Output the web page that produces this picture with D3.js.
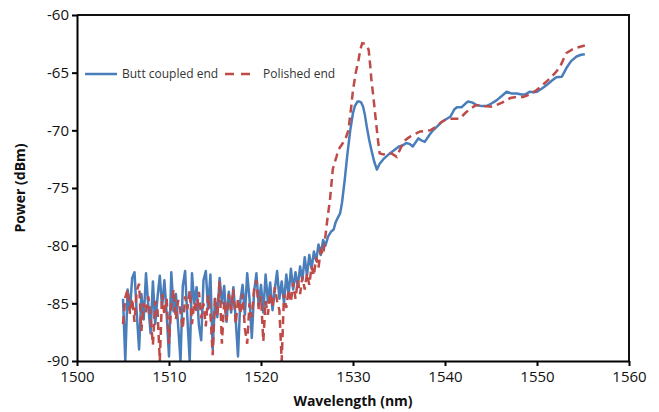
<!DOCTYPE html>
<head>
<meta charset="utf-8">
<title>Power vs Wavelength</title>
<style>
body { margin: 0; background: #fff; font-family: "Open Sans", sans-serif; }
.axis path, .axis line { stroke: #000; stroke-width: 2px; }
.axis text { font-family: "Open Sans", sans-serif; font-size: 15px; fill: #111; }
.title { font-family: "Open Sans", sans-serif; font-size: 14px; font-weight: bold; fill: #111; }
.legend text { font-family: "Open Sans", sans-serif; font-size: 12px; fill: #333; }
</style>
<script src="https://d3js.org/d3.v7.min.js"></script>
</head>
<body>
<script>
// noisy part of both traces, sampled every 0.25 nm from 1505 to 1527 nm
var noiseStart = 1505, noiseStep = 0.25;
var buttNoise = [
  -84.6, -90.0, -83.8, -85.6, -82.8, -82.3, -85.9, -89.0, -84.2, -86.4,
  -82.4, -85.2, -87.6, -83.1, -86.8, -84.5, -82.6, -85.4, -83.0, -86.0,
  -89.6, -82.3, -85.7, -84.2, -87.0, -90.0, -83.5, -82.2, -86.3, -90.0,
  -82.4, -85.0, -83.6, -86.9, -88.2, -83.0, -82.2, -85.5, -82.5, -89.0,
  -84.6, -86.2, -82.8, -85.0, -83.5, -86.6, -84.0, -85.8, -83.6, -86.4,
  -89.6, -84.8, -83.4, -86.0, -82.4, -84.6, -88.0, -84.0, -82.4, -85.2,
  -83.4, -85.8, -82.5, -84.9, -83.2, -85.6, -83.8, -82.2, -84.6, -83.1,
  -85.0, -82.5, -84.3, -82.0, -83.8, -82.3, -83.6, -81.8, -83.0, -81.0,
  -82.6, -80.8, -82.0, -80.5, -81.3, -79.9, -80.8, -79.5, -80.0
];
var polishedNoise = [
  -86.8, -84.5, -83.8, -85.9, -84.6, -86.6, -83.9, -83.3, -87.4, -85.0,
  -85.8, -84.4, -86.2, -88.6, -84.8, -85.6, -90.0, -84.2, -86.0, -84.6,
  -88.5, -85.2, -83.8, -86.4, -84.7, -85.8, -87.2, -84.4, -85.5, -83.9,
  -86.8, -84.9, -85.7, -84.0, -86.3, -85.0, -87.0, -84.3, -85.9, -89.5,
  -84.5, -86.0, -83.1, -88.5, -84.8, -86.5, -84.2, -85.6, -83.8, -86.8,
  -84.6, -85.9, -84.2, -87.2, -88.5, -85.0, -86.2, -83.8, -83.0, -85.5,
  -84.4, -88.3, -84.8, -86.0, -84.1, -85.3, -83.6, -84.8, -85.6, -90.0,
  -84.2, -85.4, -83.8, -84.9, -83.2, -84.6, -83.0, -84.2, -82.7, -83.8,
  -82.4, -83.4, -81.8, -82.6, -81.0, -81.9, -80.4, -80.8, -79.2
];

// smooth part after 1527 nm
var buttTailWl = [1527.3, 1527.6, 1527.9, 1528.1, 1528.4, 1528.6, 1528.8, 1529.1, 1529.4, 1529.7,
  1530.0, 1530.2, 1530.5, 1530.7, 1530.9, 1531.1, 1531.3, 1531.5, 1531.75, 1532.0,
  1532.3, 1532.6, 1532.9, 1533.3, 1534.0, 1534.5, 1535.0, 1535.4, 1535.8, 1536.2,
  1536.5, 1537.1, 1537.5, 1537.8, 1538.3, 1538.7, 1539.1, 1539.6, 1540.2, 1540.6,
  1541.0, 1541.3, 1541.8, 1542.2, 1542.5, 1543.0, 1543.4, 1544.0, 1544.5, 1545.0,
  1545.6, 1546.2, 1546.7, 1547.2, 1547.8, 1548.3, 1548.7, 1549.2, 1549.6, 1550.0,
  1550.5, 1551.05, 1551.6, 1552.1, 1552.7, 1553.2, 1553.7, 1554.3, 1554.8, 1555.2];
var buttTailP = [-79.2, -78.8, -78.6, -78.0, -77.5, -77.2, -76.3, -74.3, -72.0, -70.0,
  -68.5, -67.9, -67.5, -67.5, -67.6, -67.95, -68.7, -69.7, -70.8, -71.7,
  -72.7, -73.4, -72.9, -72.5, -72.0, -71.7, -71.4, -71.3, -71.1, -71.2,
  -71.4, -70.7, -70.9, -71.0, -70.4, -70.0, -69.7, -69.3, -69.0, -68.8,
  -68.2, -68.0, -68.0, -67.7, -67.5, -67.6, -67.8, -67.9, -67.9, -67.7,
  -67.4, -67.0, -66.65, -66.8, -66.8, -66.9, -66.9, -66.65, -66.7, -66.65,
  -66.4, -66.07, -65.7, -65.4, -65.35, -64.6, -64.0, -63.6, -63.45, -63.4];

var polishedTailWl = [1527.2, 1527.5, 1527.8, 1528.0, 1528.2, 1528.4, 1528.9, 1529.2, 1529.5, 1529.8,
  1530.0, 1530.3, 1530.6, 1530.8, 1531.0, 1531.3, 1531.5, 1531.7, 1531.85, 1532.0,
  1532.2, 1532.4, 1532.6, 1532.75, 1532.9, 1533.3, 1533.8, 1534.2, 1534.75, 1535.2,
  1535.6, 1536.2, 1536.8, 1537.3, 1538.4, 1539.0, 1539.6, 1540.2, 1541.0, 1541.6,
  1542.2, 1542.8, 1543.4, 1544.3, 1545.2, 1546.2, 1547.1, 1547.8, 1548.5, 1549.2,
  1549.97, 1550.7, 1551.4, 1552.0, 1552.5, 1552.9, 1553.2, 1553.8, 1554.5, 1555.2];
var polishedTailP = [-77.8, -76.0, -73.4, -72.8, -72.3, -71.7, -71.1, -70.7, -70.0, -68.0,
  -66.5, -65.0, -63.9, -63.0, -62.45, -62.5, -62.7, -63.0, -64.2, -65.6,
  -67.0, -68.5, -70.0, -71.1, -72.0, -72.1, -72.0, -72.0, -72.3, -71.5,
  -70.9, -70.55, -70.3, -70.1, -70.0, -69.7, -69.3, -69.0, -69.0, -69.0,
  -68.5, -68.1, -67.8, -67.9, -67.95, -67.6, -67.2, -67.1, -67.1, -66.9,
  -66.5, -66.0, -65.5, -65.0, -64.5, -63.8, -63.3, -63.0, -62.8, -62.65];

var seriesNames = ["Butt coupled end", "Polished end"];
var seriesColors = ["#4a7ebb", "#be4b48"];

function buildSeries(noise, tailWl, tailP) {
  var pts = noise.map(function(p, i) { return { wl: noiseStart + i * noiseStep, p: p }; });
  tailWl.forEach(function(w, i) { pts.push({ wl: w, p: tailP[i] }); });
  return pts;
}
var butt = buildSeries(buttNoise, buttTailWl, buttTailP);
var polished = buildSeries(polishedNoise, polishedTailWl, polishedTailP);

var width = 659, height = 412;
var plotLeft = 77, plotRight = 629, plotTop = 15, plotBottom = 361;

var svg = d3.select("body").append("svg")
    .attr("width", width)
    .attr("height", height);

var x = d3.scaleLinear().domain([1500, 1560]).range([plotLeft, plotRight]);
var y = d3.scaleLinear().domain([-90, -60]).range([plotBottom, plotTop]);

svg.append("defs").append("clipPath").attr("id", "plot")
  .append("rect").attr("x", plotLeft).attr("y", plotTop)
  .attr("width", plotRight - plotLeft).attr("height", plotBottom - plotTop);

// frame (top and right)
svg.append("path")
  .attr("d", "M" + plotLeft + "," + plotTop + "H" + plotRight + "V" + plotBottom)
  .attr("fill", "none").attr("stroke", "#111").attr("stroke-width", 2);

var line = d3.line().x(function(d) { return x(d.wl); }).y(function(d) { return y(d.p); });

var g = svg.append("g").attr("clip-path", "url(#plot)");
g.append("path").datum(butt)
  .attr("d", line).attr("fill", "none")
  .attr("stroke", seriesColors[0]).attr("stroke-width", 2.5)
  .attr("stroke-linejoin", "round");
g.append("path").datum(polished)
  .attr("d", line).attr("fill", "none")
  .attr("stroke", seriesColors[1]).attr("stroke-width", 2.5)
  .attr("stroke-dasharray", "8,5");

// axes (plain hyphen for negatives, like the original)
var fmt = function(d) { return String(d); };
svg.append("g").attr("class", "axis")
  .attr("transform", "translate(0," + plotBottom + ")")
  .call(d3.axisBottom(x).ticks(6).tickSize(5).tickSizeOuter(0).tickPadding(5).tickFormat(fmt));
svg.append("g").attr("class", "axis")
  .attr("transform", "translate(" + plotLeft + ",0)")
  .call(d3.axisLeft(y).ticks(6).tickSize(5).tickSizeOuter(0).tickPadding(3).tickFormat(fmt));

svg.append("text").attr("class", "title")
  .attr("x", (plotLeft + plotRight) / 2).attr("y", 406)
  .attr("text-anchor", "middle").text("Wavelength (nm)");
svg.append("text").attr("class", "title")
  .attr("transform", "translate(25," + (plotTop + plotBottom) / 2 + ") rotate(-90)")
  .attr("text-anchor", "middle").text("Power (dBm)");

// legend
var legend = svg.append("g").attr("class", "legend");
legend.append("line").attr("x1", 85).attr("x2", 117).attr("y1", 74).attr("y2", 74)
  .attr("stroke", seriesColors[0]).attr("stroke-width", 2.5);
legend.append("text").attr("x", 122).attr("y", 78).text(seriesNames[0]);
legend.append("line").attr("x1", 225).attr("x2", 251).attr("y1", 74).attr("y2", 74)
  .attr("stroke", seriesColors[1]).attr("stroke-width", 2.5).attr("stroke-dasharray", "9,7");
legend.append("text").attr("x", 263).attr("y", 78).text(seriesNames[1]);
</script>
</body>
